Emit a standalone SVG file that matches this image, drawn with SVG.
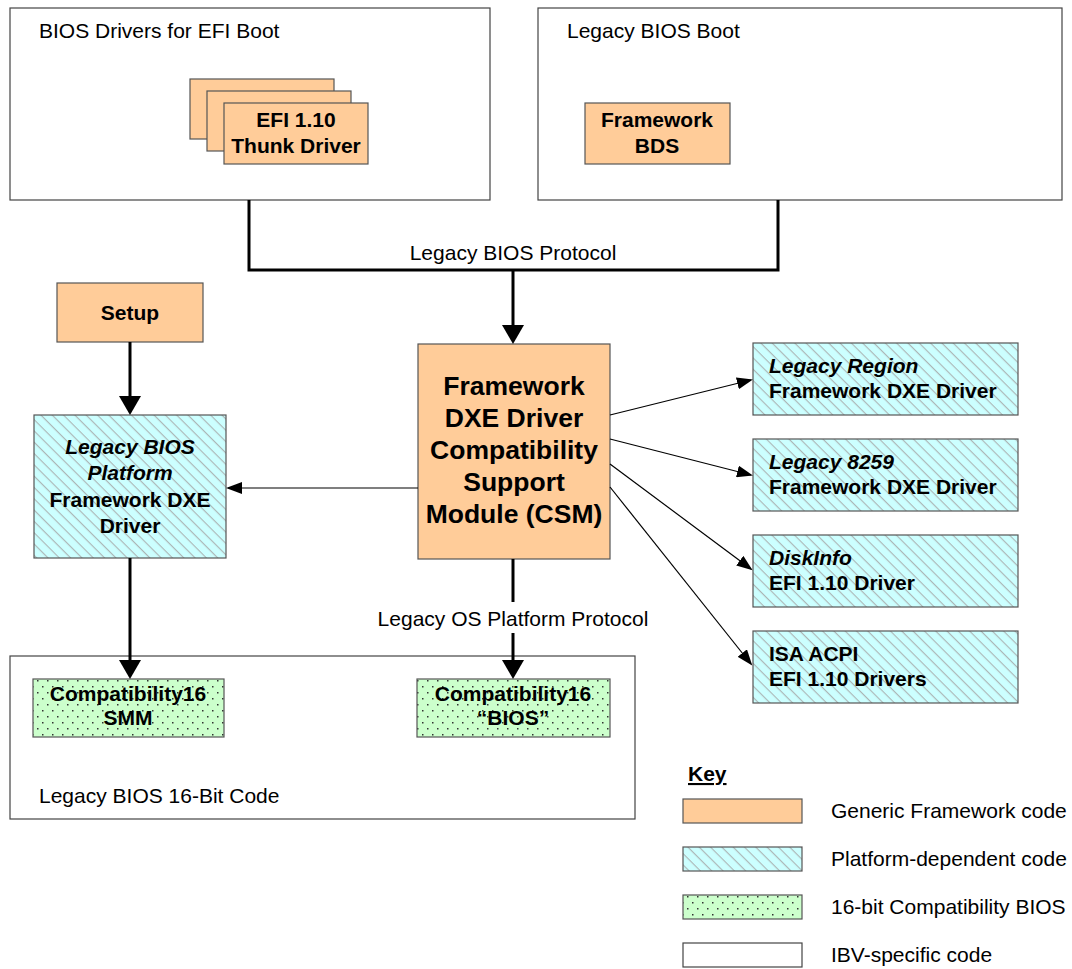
<svg xmlns="http://www.w3.org/2000/svg" width="1072" height="969" viewBox="0 0 1072 969">
  <defs>
    <style>
      text { font-family: "Liberation Sans", Arial, Helvetica, sans-serif; font-size: 21px; fill: #000; }
      .b { font-weight: bold; }
      .i { font-style: italic; }
      .mid { text-anchor: middle; }
      .csm { font-size: 26.5px; font-weight: bold; }
      .ibv { fill: #fff; stroke: #444; stroke-width: 1.2; }
      .gen { fill: #ffcc99; stroke: #555; stroke-width: 1.2; }
      .plat { fill: url(#hatch); stroke: #555; stroke-width: 1.2; }
      .bios16 { fill: url(#dots); stroke: #555; stroke-width: 1.2; }
      .thick { fill: none; stroke: #000; stroke-width: 3; }
      .thin { fill: none; stroke: #000; stroke-width: 1.2; }
    </style>
    <!-- diagonal hatching for platform-dependent code -->
    <pattern id="hatch" width="8" height="8" patternUnits="userSpaceOnUse" patternTransform="rotate(45)">
      <rect width="8" height="8" fill="#ccffff"/>
      <line x1="0" y1="0.6" x2="8" y2="0.6" stroke="#aab2b2" stroke-width="1.1"/>
    </pattern>
    <!-- dotted fill for 16-bit compatibility code -->
    <pattern id="dots" width="10" height="12" patternUnits="userSpaceOnUse">
      <rect width="10" height="12" fill="#ccffcc"/>
      <rect x="2" y="2" width="1.5" height="1.5" fill="#333"/>
      <rect x="7" y="8" width="1.5" height="1.5" fill="#333"/>
    </pattern>
    <marker id="headBig" markerUnits="userSpaceOnUse" markerWidth="20" markerHeight="22" refX="15" refY="11" orient="auto">
      <path d="M0,0 L19,11 L0,22 z" fill="#000"/>
    </marker>
    <marker id="headSmall" markerUnits="userSpaceOnUse" markerWidth="17" markerHeight="12" refX="14" refY="6" orient="auto">
      <path d="M0,0 L16,6 L0,12 z" fill="#000"/>
    </marker>
  </defs>

  <rect width="1072" height="969" fill="#fff"/>

  <!-- top containers -->
  <g id="bios-drivers-efi-boot">
    <rect class="ibv" x="10" y="8" width="480" height="192"/>
    <text x="39" y="38">BIOS Drivers for EFI Boot</text>
  </g>
  <g id="thunk-driver">
    <rect class="gen" x="190" y="79" width="144" height="60"/>
    <rect class="gen" x="207" y="91" width="144" height="60"/>
    <rect class="gen" x="224" y="103" width="144" height="61"/>
    <text class="b mid" x="296" y="127">EFI 1.10</text>
    <text class="b mid" x="296" y="153">Thunk Driver</text>
  </g>
  <g id="legacy-bios-boot">
    <rect class="ibv" x="538" y="8" width="524" height="192"/>
    <text x="567" y="38">Legacy BIOS Boot</text>
  </g>
  <g id="framework-bds">
    <rect class="gen" x="585" y="103" width="145" height="61"/>
    <text class="b mid" x="657" y="127">Framework</text>
    <text class="b mid" x="657" y="153">BDS</text>
  </g>

  <g id="setup">
    <rect class="gen" x="57" y="283" width="146" height="59"/>
    <text class="b mid" x="130" y="320">Setup</text>
  </g>

  <g id="legacy-bios-platform">
    <rect class="plat" x="34" y="415" width="192" height="143"/>
    <text class="b i mid" x="130" y="454">Legacy BIOS</text>
    <text class="b i mid" x="130" y="480">Platform</text>
    <text class="b mid" x="130" y="507">Framework DXE</text>
    <text class="b mid" x="130" y="533">Driver</text>
  </g>

  <g id="csm">
    <rect class="gen" x="418" y="344" width="192" height="215"/>
    <text class="csm mid" x="514" y="395">Framework</text>
    <text class="csm mid" x="514" y="427">DXE Driver</text>
    <text class="csm mid" x="514" y="459">Compatibility</text>
    <text class="csm mid" x="514" y="491">Support</text>
    <text class="csm mid" x="514" y="523">Module (CSM)</text>
  </g>

  <g id="legacy-region">
    <rect class="plat" x="753" y="343" width="265" height="72"/>
    <text class="b i" x="769" y="373">Legacy Region</text>
    <text class="b" x="769" y="398">Framework DXE Driver</text>
  </g>
  <g id="legacy-8259">
    <rect class="plat" x="753" y="439" width="265" height="72"/>
    <text class="b i" x="769" y="469">Legacy 8259</text>
    <text class="b" x="769" y="494">Framework DXE Driver</text>
  </g>
  <g id="diskinfo">
    <rect class="plat" x="753" y="535" width="265" height="72"/>
    <text class="b i" x="769" y="565">DiskInfo</text>
    <text class="b" x="769" y="590">EFI 1.10 Driver</text>
  </g>
  <g id="isa-acpi">
    <rect class="plat" x="753" y="631" width="265" height="72"/>
    <text class="b" x="769" y="661">ISA ACPI</text>
    <text class="b" x="769" y="686">EFI 1.10 Drivers</text>
  </g>

  <g id="legacy-bios-16bit">
    <rect class="ibv" x="10" y="656" width="625" height="163"/>
    <text x="39" y="803">Legacy BIOS 16-Bit Code</text>
  </g>
  <g id="compat16-smm">
    <rect class="bios16" x="33" y="679" width="191" height="58"/>
    <text class="b mid" x="128" y="701">Compatibility16</text>
    <text class="b mid" x="128" y="725">SMM</text>
  </g>
  <g id="compat16-bios">
    <rect class="bios16" x="417" y="679" width="193" height="58"/>
    <text class="b mid" x="513" y="701">Compatibility16</text>
    <text class="b mid" x="513" y="725">“BIOS”</text>
  </g>

  <!-- connectors -->
  <g id="connectors">
    <path class="thick" d="M249,200 V270 H778 V200"/>
    <path class="thick" d="M513,270 V340" marker-end="url(#headBig)"/>
    <path class="thick" d="M130,342 V411" marker-end="url(#headBig)"/>
    <path class="thick" d="M130,558 V675" marker-end="url(#headBig)"/>
    <path class="thick" d="M513,559 V602"/>
    <path class="thick" d="M513,633 V675" marker-end="url(#headBig)"/>
    <path class="thin" d="M418,488 H228" marker-end="url(#headSmall)"/>
    <path class="thin" d="M610,415 L751,380" marker-end="url(#headSmall)"/>
    <path class="thin" d="M610,439 L751,475" marker-end="url(#headSmall)"/>
    <path class="thin" d="M610,464 L751,569" marker-end="url(#headSmall)"/>
    <path class="thin" d="M610,487 L751,664" marker-end="url(#headSmall)"/>
    <text class="mid" x="513" y="260">Legacy BIOS Protocol</text>
    <text class="mid" x="513" y="626">Legacy OS Platform Protocol</text>
  </g>

  <!-- key -->
  <g id="key">
    <text class="b" x="688" y="781" text-decoration="underline">Key</text>
    <rect class="gen" x="683" y="799" width="119" height="24"/>
    <text x="831" y="818">Generic Framework code</text>
    <rect class="plat" x="683" y="847" width="119" height="24"/>
    <text x="831" y="866">Platform-dependent code</text>
    <rect class="bios16" x="683" y="895" width="119" height="24"/>
    <text x="831" y="914">16-bit Compatibility BIOS</text>
    <rect class="ibv" x="683" y="943" width="119" height="24"/>
    <text x="831" y="962">IBV-specific code</text>
  </g>
</svg>
